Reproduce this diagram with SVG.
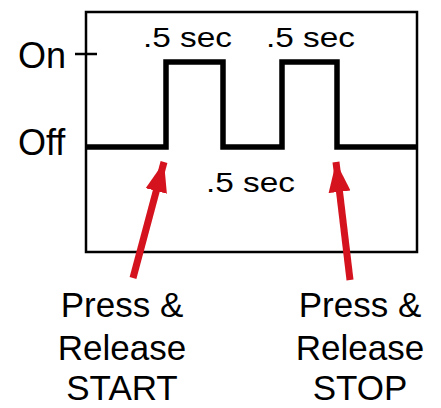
<svg xmlns="http://www.w3.org/2000/svg" width="441" height="408" viewBox="0 0 441 408">
<style>
.t{font-family:"Liberation Sans",Arial,sans-serif;fill:#000}
.big{font-size:36px}
.bot{font-size:35px}
.sm{font-size:28px}
.arr{stroke:#D5131E;stroke-width:7;fill:none}
</style>
<defs>
<marker id="ah" markerUnits="userSpaceOnUse" markerWidth="32" markerHeight="24" refX="30" refY="11" orient="auto" viewBox="0 0 32 22">
<path d="M0,0 L30,11 L0,22 Z" fill="#D5131E"/>
</marker>
</defs>
<rect width="441" height="408" fill="#fff"/>
<g id="frame">
<rect x="86" y="12" width="331" height="240" fill="none" stroke="#000" stroke-width="2.5"/>
<line x1="75" y1="54" x2="97" y2="54" stroke="#000" stroke-width="2.5"/>
</g>
<g id="signal">
<polyline points="86,147 166,147 166,62 223,62 223,147 282,147 282,62 337,62 337,147 417,147" fill="none" stroke="#000" stroke-width="5.5"/>
</g>
<g id="labels">
<text class="t big" x="18" y="68">On</text>
<text class="t big" x="18" y="155">Off</text>
<text class="t sm" x="143" y="47" textLength="89" lengthAdjust="spacingAndGlyphs">.5 sec</text>
<text class="t sm" x="266" y="47" textLength="89" lengthAdjust="spacingAndGlyphs">.5 sec</text>
<text class="t sm" x="206" y="192" textLength="89" lengthAdjust="spacingAndGlyphs">.5 sec</text>
</g>
<g id="connectors">
<line class="arr" x1="133" y1="278" x2="164" y2="162" marker-end="url(#ah)"/>
<line class="arr" x1="350" y1="280" x2="336" y2="162" marker-end="url(#ah)"/>
</g>
<g id="start-label">
<text class="t bot" x="122" y="317" text-anchor="middle">Press &amp;</text>
<text class="t bot" x="122" y="360" text-anchor="middle">Release</text>
<text class="t bot" x="122" y="400" text-anchor="middle">START</text>
</g>
<g id="stop-label">
<text class="t bot" x="360" y="317" text-anchor="middle">Press &amp;</text>
<text class="t bot" x="360" y="360" text-anchor="middle">Release</text>
<text class="t bot" x="360" y="400" text-anchor="middle">STOP</text>
</g>
</svg>
